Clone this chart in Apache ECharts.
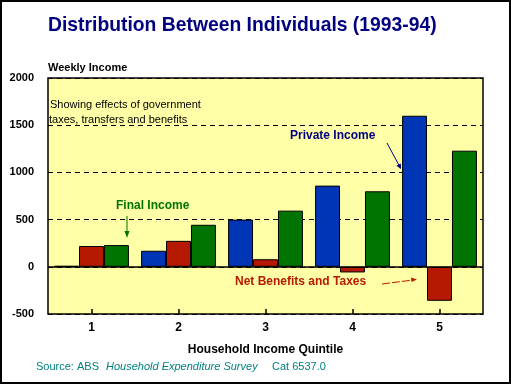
<!DOCTYPE html>
<html><head><meta charset="utf-8">
<script src="https://cdn.jsdelivr.net/npm/echarts@6/dist/echarts.min.js"></script>
<style>html,body{margin:0;padding:0;background:#fff}#c{width:511px;height:384px}</style>
</head><body><div id="c"></div>
<script>
const categories = ['1', '2', '3', '4', '5'];
const privateIncome = [10, 170, 500, 860, 1600];
const netBenefits = [220, 275, 80, -60, -360];
const finalIncome = [230, 445, 595, 800, 1230];
const yMin = -500, yMax = 2000, yStep = 500;

const F = 'Arial, "Liberation Sans", sans-serif';
const chart = echarts.init(document.getElementById('c'), null, {renderer: 'canvas'});
const barStyle = c => ({color: c, borderColor: '#000', borderWidth: 1});
chart.setOption({
  animation: false,
  backgroundColor: '#fff',
  grid: {left: 48, right: 28, top: 78, bottom: 70, show: true, backgroundColor: '#FFFFA8', borderColor: '#000', borderWidth: 1.5},
  xAxis: {
    type: 'category', data: categories,
    axisLine: {show: false, onZero: false},
    axisTick: {show: true, inside: true, alignWithLabel: true, length: 5, lineStyle: {color: '#000', width: 1.5}},
    axisLabel: {color: '#000', fontFamily: F, fontWeight: 'bold', fontSize: 12, margin: 8},
    name: 'Household Income Quintile', nameLocation: 'middle', nameGap: 30,
    nameTextStyle: {color: '#000', fontFamily: F, fontWeight: 'bold', fontSize: 12}
  },
  yAxis: {
    type: 'value', min: yMin, max: yMax, interval: yStep,
    axisLine: {show: false}, axisTick: {show: false},
    axisLabel: {color: '#000', fontFamily: F, fontWeight: 'bold', fontSize: 11, margin: 14, formatter: v => String(v)},
    splitLine: {show: true, lineStyle: {color: '#000', type: [5, 4], width: 1}}
  },
  series: [
    {name: 'Private Income', type: 'bar', data: privateIncome, barGap: '0%', barCategoryGap: '14%', itemStyle: barStyle('#0035B5'),
     markLine: {silent: true, symbol: 'none', label: {show: false}, lineStyle: {color: '#000', type: 'solid', width: 1.5}, data: [{yAxis: 0}]}},
    {name: 'Net Benefits and Taxes', type: 'bar', data: netBenefits, itemStyle: barStyle('#B51A00')},
    {name: 'Final Income', type: 'bar', data: finalIncome, itemStyle: barStyle('#007400')}
  ],
  graphic: [
    {type: 'rect', shape: {x: 1, y: 1, width: 509, height: 382}, style: {fill: 'none', stroke: '#000', lineWidth: 2}, z: 100},
    {type: 'text', x: 48, y: 15, scaleX: 0.92, style: {text: 'Distribution Between Individuals (1993-94)', font: 'bold 21px ' + F, fill: '#000080'}},
    {type: 'text', left: 48, top: 62, style: {text: 'Weekly Income', font: 'bold 11px ' + F, fill: '#000'}},
    {type: 'text', left: 50, top: 99, style: {text: 'Showing effects of government', font: '11px ' + F, fill: '#000'}, z: 50},
    {type: 'text', left: 49, top: 114, style: {text: 'taxes, transfers and benefits', font: '11px ' + F, fill: '#000'}, z: 50},
    {type: 'text', left: 290, top: 130, style: {text: 'Private Income', font: 'bold 12px ' + F, fill: '#000080'}, z: 50},
    {type: 'line', shape: {x1: 387, y1: 143, x2: 400, y2: 167}, style: {stroke: '#000080', lineWidth: 1}, z: 50},
    {type: 'polygon', shape: {points: [[401, 169], [396.4, 165.8], [400.8, 163.4]]}, style: {fill: '#000080'}, z: 50},
    {type: 'text', left: 116, top: 200, style: {text: 'Final Income', font: 'bold 12px ' + F, fill: '#007400'}, z: 50},
    {type: 'line', shape: {x1: 127, y1: 216, x2: 127, y2: 235}, style: {stroke: '#007400', lineWidth: 1}, z: 50},
    {type: 'polygon', shape: {points: [[127, 238], [124.5, 231], [129.5, 231]]}, style: {fill: '#007400'}, z: 50},
    {type: 'text', left: 235, top: 276, style: {text: 'Net Benefits and Taxes', font: 'bold 12px ' + F, fill: '#B51A00'}, z: 50},
    {type: 'line', shape: {x1: 382, y1: 284, x2: 413, y2: 280}, style: {stroke: '#B51A00', lineWidth: 1, lineDash: [8, 2]}, z: 50},
    {type: 'polygon', shape: {points: [[417, 279.5], [411, 277.5], [411.5, 282]]}, style: {fill: '#B51A00'}, z: 50},
    {type: 'text', left: 36, top: 361, style: {text: 'Source:', font: '11px ' + F, fill: '#008080'}},
    {type: 'text', left: 77, top: 361, style: {text: 'ABS', font: '11px ' + F, fill: '#008080'}},
    {type: 'text', left: 106, top: 361, style: {text: 'Household Expenditure Survey', font: 'italic 11px ' + F, fill: '#008080'}},
    {type: 'text', left: 272, top: 361, style: {text: 'Cat 6537.0', font: '11px ' + F, fill: '#008080'}}
  ]
});
</script></body></html>
